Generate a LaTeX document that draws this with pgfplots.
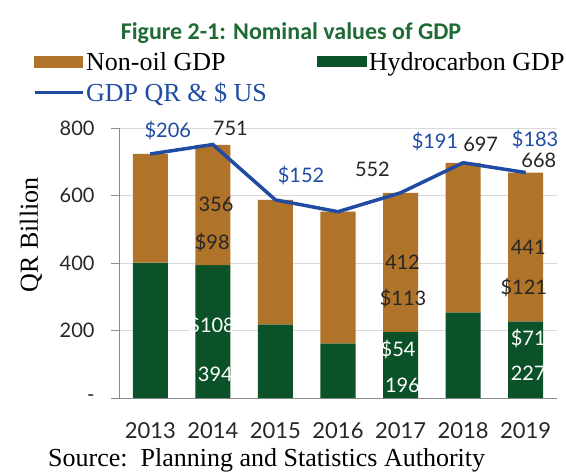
\documentclass[border=0pt]{standalone}
\usepackage{fontspec}
\setmainfont{Liberation Serif}
\newfontfamily\lato{Lato}
\newfontfamily\carlito{Carlito}
\usepackage{pgfplots}
\pgfplotsset{compat=1.18}
\usepackage{pgfplotstable}
\definecolor{nonoil}{HTML}{B0732A}
\definecolor{hydro}{HTML}{0B5229}
\definecolor{gdpblue}{HTML}{1F4BA3}
\definecolor{titlegreen}{HTML}{1F6B35}
\definecolor{gridc}{HTML}{D9D9D9}
\definecolor{axc}{HTML}{8C8C8C}
\pgfplotstableread{
x hydro nonoil total
0 401 322 723
1 394 356 751
2 218 369 587
3 162 390 552
4 196 412 608
5 254 443 697
6 227 441 668
}\gdpdata
\begin{document}
\begin{tikzpicture}
\begin{axis}[
  name=ax,
  scale only axis, clip=false,
  width=438pt, height=270pt,
  xmin=-0.5, xmax=6.5, ymin=0, ymax=800,
  axis x line*=bottom, axis y line*=left,
  axis line style={axc, line width=0.8pt},
  xtick={0,...,6},
  xticklabels={2013,2014,2015,2016,2017,2018,2019},
  major x tick style={draw=none},
  extra x ticks={-0.5,0.5,1.5,2.5,3.5,4.5,5.5,6.5},
  extra x tick labels={},
  extra x tick style={grid=none, major tick length=8pt, tick style={axc, line width=0.8pt}, tick align=outside},
  xticklabel style={font=\lato\fontsize{22}{22}\selectfont, text=black!85, yshift=-13pt},
  ytick={0,200,400,600,800},
  yticklabels={-,200,400,600,800},
  yticklabel style={font=\lato\fontsize{20}{20}\selectfont, text=black!85, xshift=-13pt},
  ytick style={axc, line width=0.8pt},
  tick align=outside, major tick length=8pt,
  ymajorgrids, grid style={gridc, line width=0.8pt},
  ylabel={QR Billion},
  ylabel style={at={(rel axis cs:-0.201,0.604)}, anchor=center, font=\fontsize{26}{26}\selectfont},
  legend columns=2,
  legend style={at={(rel axis cs:0,1)}, anchor=north west, xshift=-86pt, yshift=78pt,
    draw=none, fill=none, inner sep=0pt, font=\fontsize{26}{27}\selectfont,
    /tikz/every even column/.append style={column sep=48pt}, row sep=7pt},
  legend cell align=left,
]
\addlegendimage{legend image code/.code={\fill[nonoil] (0pt,-5.5pt) rectangle (48pt,5.5pt);}}
\addlegendentry{Non-oil GDP}
\addplot[ybar, bar width=35pt, bar shift=0pt, stack plots=y, fill=hydro, draw=none, legend image code/.code={\fill[hydro] (0pt,-5.5pt) rectangle (50pt,5.5pt);}] table[x=x, y=hydro] {\gdpdata};
\addlegendentry{Hydrocarbon GDP}
\addplot[ybar, bar width=35pt, bar shift=0pt, stack plots=y, fill=nonoil, draw=none, forget plot] table[x=x, y=nonoil] {\gdpdata};
\addplot[sharp plot, stack plots=false, gdpblue, line width=3.5pt, mark=none,
  legend image code/.code={\draw[gdpblue, line width=3pt] (0pt,0pt) -- (48pt,0pt);}] table[x=x, y=total] {\gdpdata};
\addlegendentry{\textcolor{gdpblue}{GDP QR \& \$ US}}
\begin{scope}[every node/.style={font=\lato\fontsize{20}{20}\selectfont, anchor=center, inner sep=0pt}]
\node[text=gdpblue] at (axis cs:0.28,794) {\$206};
\node[text=black!85] at (axis cs:1.28,800) {751};
\node[text=black!85] at (axis cs:1.05,573) {356};
\node[text=black!85] at (axis cs:0.99,462) {\$98};
\node[text=white] at (axis cs:0.98,216) {\$108};
\node[text=white] at (axis cs:1.04,71) {394};
\node[text=gdpblue] at (axis cs:2.41,659) {\$152};
\node[text=black!85] at (axis cs:3.55,677) {552};
\node[text=black!85] at (axis cs:4.03,401) {412};
\node[text=black!85] at (axis cs:4.04,295) {\$113};
\node[text=white] at (axis cs:3.96,144) {\$54};
\node[text=white] at (axis cs:4.03,38) {196};
\node[text=gdpblue] at (axis cs:4.55,761) {\$191};
\node[text=black!85] at (axis cs:5.28,751) {697};
\node[text=gdpblue] at (axis cs:6.15,767) {\$183};
\node[text=black!85] at (axis cs:6.21,704) {668};
\node[text=black!85] at (axis cs:6.04,446) {441};
\node[text=black!85] at (axis cs:5.97,327) {\$121};
\node[text=white] at (axis cs:6.04,176) {\$71};
\node[text=white] at (axis cs:6.04,73) {227};
\end{scope}
\end{axis}
\node[font=\carlito\bfseries\fontsize{24}{24}\selectfont, text=titlegreen, anchor=base] at ([xshift=172pt, yshift=89pt]ax.north west) {Figure 2-1: Nominal values of GDP};
\node[font=\fontsize{26}{26}\selectfont, anchor=base west, inner sep=0pt] at ([xshift=-71pt, yshift=-68pt]ax.south west) {Source:\hspace{0.5em}Planning and Statistics Authority};
\pgfresetboundingbox
\useasboundingbox ([xshift=-119pt, yshift=-73pt]ax.south west) rectangle ([xshift=9pt, yshift=128pt]ax.north east);
\end{tikzpicture}
\end{document}
